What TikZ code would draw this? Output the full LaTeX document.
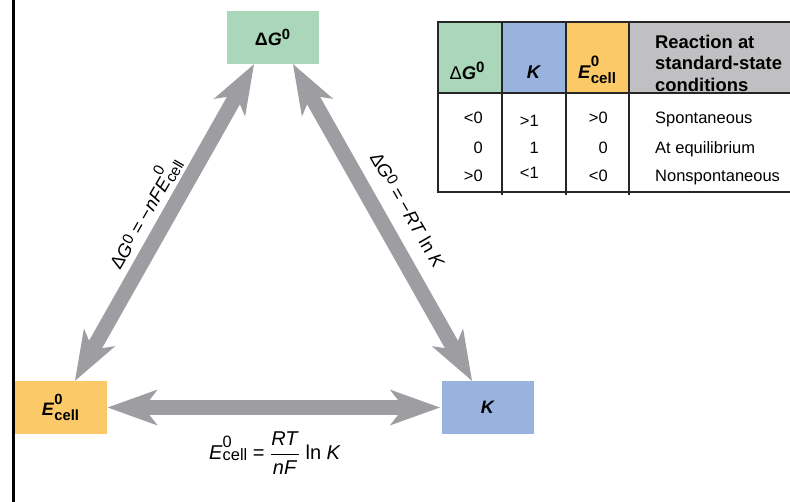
\documentclass[tikz,border=0pt]{standalone}
\usepackage{fontspec}
\setmainfont{Liberation Sans}
\usepackage{amsmath}
\usetikzlibrary{arrows.meta}

\definecolor{dgfill}{RGB}{170,214,186}
\definecolor{kfill}{RGB}{151,179,222}
\definecolor{efill}{RGB}{252,201,104}
\definecolor{hdgray}{RGB}{192,192,194}
\definecolor{arrgray}{RGB}{158,158,162}

% a slightly reduced copy of the current font, for indices
\makeatletter
\newcommand{\idxfont}{\fontsize{\strip@pt\dimexpr\f@size pt*82/100\relax}{0}\selectfont}
\makeatother
% stacked superscript #2 over subscript #3; #1 = how far the subscript drops
\newcommand{\supsub}[3][0.3em]{{\makebox[0pt][l]{\raisebox{0.62em}{\idxfont #2}}\raisebox{-#1}{\idxfont #3}}}
% E^0_cell and Delta G^0 in the current text font
\newcommand{\Ecell}[1][0.3em]{\textit{E}\supsub[#1]{0}{cell}}
\newcommand{\Gzero}[1][0.35em]{\textit{G}\raisebox{#1}{\idxfont 0}}
\newcommand{\dGzero}[1][0.35em]{Δ\Gzero[#1]}

\tikzset{
  bigtip/.tip={Stealth[length=50pt,width=36pt,inset=14pt,line width=0pt]},
}

\begin{document}
\begin{tikzpicture}[x=1pt,y=-1pt,
  qbox/.style={minimum width=92pt, minimum height=53pt, inner sep=0pt,
    font=\fontsize{18}{21}\selectfont\bfseries},
  twoway/.style={draw=arrgray, line width=15pt, arrows={bigtip-bigtip}},
  lbl/.style={font=\fontsize{18.5}{22}\selectfont, inner sep=0pt},
  hd/.style={font=\fontsize{18.4}{21.5}\selectfont\bfseries, inner sep=0pt},
  num/.style={font=\fontsize{16.5}{20}\selectfont, inner sep=0pt, anchor=base east},
  txt/.style={font=\fontsize{16.5}{20}\selectfont, inner sep=0pt, anchor=base west},
  tabline/.style={line width=1.4pt, draw=black!85},
]
\useasboundingbox (0,0) rectangle (790,501);

% frame edge on the left
\draw[line width=3pt] (13,-2) -- (13,503);

% the three quantities
\node[qbox, fill=dgfill] (dg) at (272.5,37.5) {\dGzero};
\node[qbox, fill=efill]  (ec) at (60.5,407.5) {\Ecell};
\node[qbox, fill=kfill]  (k)  at (488,407.5) {\textit{K}};

% connecting double arrows
\draw[twoway] ([xshift=14.5pt]ec.north) -- ([xshift=-18.5pt]dg.south);
\draw[twoway] ([xshift=20.5pt]dg.south) -- ([xshift=-16pt]k.north);
\draw[twoway] ([xshift=1pt]ec.east) -- ([xshift=-2pt]k.west);

% relations along the arrows
\node[lbl, rotate=60]  (rel1) at (143,212) {\dGzero[0.2em] = −\textit{nF}\Ecell[0.15em]};
\node[lbl, rotate=-60] (rel2) at (408,210) {\dGzero[0.2em] = −\textit{RT} ln \textit{K}};
\node[lbl, font=\fontsize{20}{23}\selectfont] (rel3) at (275,453)
  {\Ecell[0.05em] = $\dfrac{\text{\textit{RT}}}{\text{\textit{nF}}}$ ln \textit{K}};

% summary table: header cells
\fill[dgfill] (438,22) rectangle (502,93);
\fill[kfill]  (502,22) rectangle (566,93);
\fill[efill]  (566,22) rectangle (629,93);
\fill[hdgray] (629,22) rectangle (792,93);

% table rules
\draw[tabline] (792,22) -- (438,22) -- (438,192) -- (792,192);
\draw[tabline] (438,93) -- (792,93);
\foreach \cx in {502,566,629} \draw[tabline] (\cx,22) -- (\cx,195);

% header labels
\node[hd] (hdg) at (467,71) {{\mdseries Δ}\Gzero};
\node[hd] (hk)  at (534,72) {\textit{K}};
\node[hd] (he)  at (597,70) {\Ecell};
\node[hd, align=left, anchor=west] (hr) at (655,63) {Reaction at\\standard-state\\conditions};

% rows
\node[num] (a1) at (483,123) {<0};
\node[num] (b1) at (539,126) {>1};
\node[num] (c1) at (608,123) {>0};
\node[txt] (d1) at (655,123) {Spontaneous};

\node[num] (a2) at (483,153) {0};
\node[num] (b2) at (539,153) {1};
\node[num] (c2) at (608,153) {0};
\node[txt] (d2) at (655,153) {At equilibrium};

\node[num] (a3) at (483,181) {>0};
\node[num] (b3) at (539,178) {<1};
\node[num] (c3) at (608,181) {<0};
\node[txt] (d3) at (655,181) {Nonspontaneous};
\end{tikzpicture}
\end{document}
